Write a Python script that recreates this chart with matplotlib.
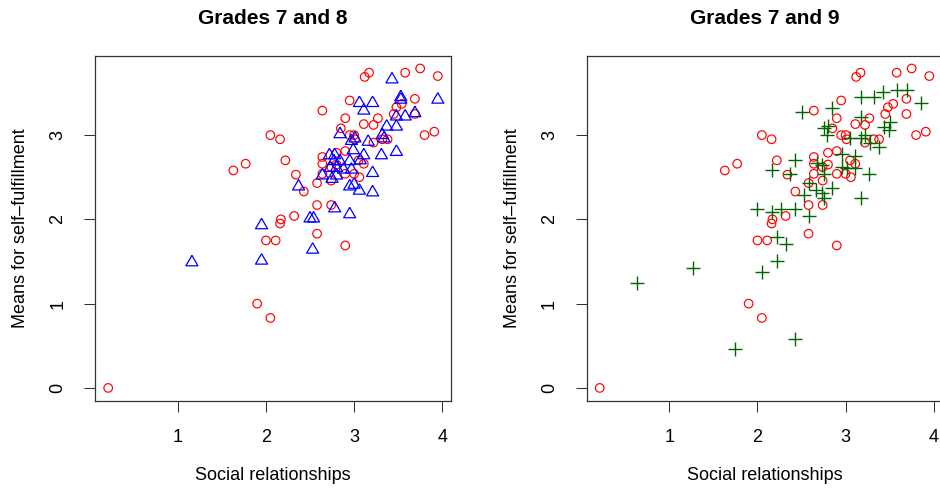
import matplotlib
matplotlib.use('Agg')
import matplotlib.pyplot as plt
import numpy as np

plt.rcParams.update({'font.family': 'Liberation Sans', 'font.size': 13})

# grade 7 (shown in both panels)
g7_x = [0.21, 1.90, 2.05, 1.63, 1.77, 2.05, 2.16, 2.22, 2.34, 2.43, 2.32, 2.17, 2.16, 2.00, 2.11,
        2.58, 2.90, 2.58, 2.74, 2.58, 2.64, 2.64, 2.64, 2.64, 2.74, 2.74, 2.80, 2.80, 2.85, 2.90,
        2.95, 2.90, 2.90, 2.95, 3.00, 3.01, 3.00, 3.06, 3.05, 3.11, 3.11, 3.12, 3.17, 3.22, 3.27,
        3.22, 3.32, 3.38, 3.45, 3.48, 3.54, 3.58, 3.75, 3.95, 3.69, 3.69, 3.80, 3.91]
g7_y = [0.00, 1.00, 0.83, 2.58, 2.66, 3.00, 2.95, 2.70, 2.53, 2.33, 2.04, 2.00, 1.95, 1.75, 1.75,
        1.83, 1.69, 2.17, 2.17, 2.43, 3.29, 2.74, 2.66, 2.54, 2.46, 2.62, 2.79, 2.65, 3.08, 3.20,
        3.41, 2.81, 2.54, 3.00, 3.00, 2.95, 2.54, 2.50, 2.70, 2.66, 3.13, 3.69, 3.74, 3.12, 3.20,
        2.91, 2.95, 2.95, 3.25, 3.33, 3.37, 3.74, 3.79, 3.70, 3.43, 3.25, 3.00, 3.04]

# grade 8
g8_x = [1.16, 1.95, 1.95, 2.37, 2.50, 2.54, 2.53, 2.78, 2.95, 3.21, 3.21, 3.06, 3.00, 2.95, 2.64,
        2.80, 2.75, 2.72, 2.78, 2.77, 2.84, 2.95, 2.73, 2.80, 2.88, 2.97, 3.07, 2.99, 3.11, 2.84,
        2.97, 3.01, 3.16, 3.31, 3.48, 3.32, 3.34, 3.37, 3.48, 3.06, 3.21, 3.11, 3.43, 3.53, 3.53,
        3.48, 3.58, 3.69, 3.95]
g8_y = [1.49, 1.51, 1.93, 2.39, 2.01, 2.01, 1.64, 2.13, 2.06, 2.32, 2.55, 2.34, 2.41, 2.39, 2.52,
        2.52, 2.48, 2.76, 2.76, 2.69, 2.69, 2.69, 2.61, 2.61, 2.59, 2.59, 2.70, 2.82, 2.76, 3.01,
        2.93, 2.96, 2.92, 2.76, 2.80, 3.00, 2.96, 3.10, 3.10, 3.38, 3.38, 3.29, 3.66, 3.45, 3.42,
        3.22, 3.22, 3.26, 3.42]

# grade 9
g9_x = [2.50, 2.85, 3.17, 3.32, 3.43, 3.58, 3.70, 3.85, 3.17, 2.75, 2.80, 2.79, 3.05, 3.17, 3.22,
        3.28, 3.38, 3.44, 3.50, 3.49, 2.17, 2.37, 2.43, 2.67, 2.73, 2.75, 2.96, 2.96, 3.02, 3.11,
        3.11, 3.27, 2.58, 2.66, 2.73, 2.75, 2.53, 2.85, 3.17, 2.00, 2.16, 2.27, 2.43, 2.58, 2.22,
        2.32, 2.22, 2.05, 1.27, 0.63, 1.74, 2.43]
g9_y = [3.27, 3.32, 3.45, 3.45, 3.51, 3.53, 3.54, 3.38, 3.22, 3.08, 3.11, 3.00, 2.97, 2.96, 3.00,
        2.90, 2.86, 3.10, 3.15, 3.06, 2.59, 2.54, 2.70, 2.67, 2.65, 2.54, 2.78, 2.62, 2.61, 2.75,
        2.61, 2.54, 2.43, 2.35, 2.31, 2.25, 2.29, 2.37, 2.25, 2.12, 2.09, 2.12, 2.12, 2.04, 1.79,
        1.71, 1.50, 1.37, 1.42, 1.25, 0.46, 0.58]

xlabel = 'Social relationships'
ylabel = 'Means for self\u2013fulfillment'
titles = ['Grades 7 and 8', 'Grades 7 and 9']
xticks = [1, 2, 3, 4]
yticks = [0, 1, 2, 3]

W, H = 940, 490
fig = plt.figure(figsize=(W / 100, H / 100), dpi=100)

# equilateral triangle like R's pch=2
tri = [(0, 1.155), (-1, -0.577), (1, -0.577), (0, 1.155)]


def rlim(*vals):
    v = np.concatenate([np.asarray(a, float) for a in vals])
    lo, hi = v.min(), v.max()
    pad = 0.04 * (hi - lo)
    return lo - pad, hi + pad


def panel(left_px, title, xs, ys, other):
    top_px, bot_px, w_px = 55.7, 400.7, 356
    ax = fig.add_axes([left_px / W, 1 - bot_px / H, w_px / W, (bot_px - top_px) / H])
    ax.scatter(g7_x, g7_y, s=38, facecolors='none', edgecolors='#FF0000', linewidths=0.85, zorder=3)
    ax.scatter(xs, ys, zorder=4, **other)
    ax.set_xlim(*rlim(g7_x, xs))
    ax.set_ylim(*rlim(g7_y, ys))
    ax.set_xticks(xticks)
    ax.set_yticks(yticks)
    ax.tick_params(direction='out', length=8, width=0.75, pad=12.5, labelsize=13, color='#333333')
    for lab in ax.get_yticklabels():
        lab.set_rotation(90)
        lab.set_va('center')
    for sp in ax.spines.values():
        sp.set_linewidth(0.9)
        sp.set_color('#333333')
    cx = (left_px + w_px / 2) / W
    fig.text(cx, 1 - 18 / H, title, ha='center', va='center', fontsize=15, fontweight='bold')
    fig.text(cx, 1 - 475 / H, xlabel, ha='center', va='center', fontsize=13)
    fig.text((left_px - 74) / W, 1 - (top_px + bot_px) / 2 / H, ylabel, rotation=90,
             ha='center', va='center', fontsize=13)
    return ax


panel(95, titles[0], g8_x, g8_y,
      dict(marker=tri, s=100, facecolors='none', edgecolors='#0000FF', linewidths=0.9))
panel(586.5, titles[1], g9_x, g9_y,
      dict(marker='+', s=90, color='#006400', linewidths=1.0))

fig.savefig('out.png', dpi=100)
